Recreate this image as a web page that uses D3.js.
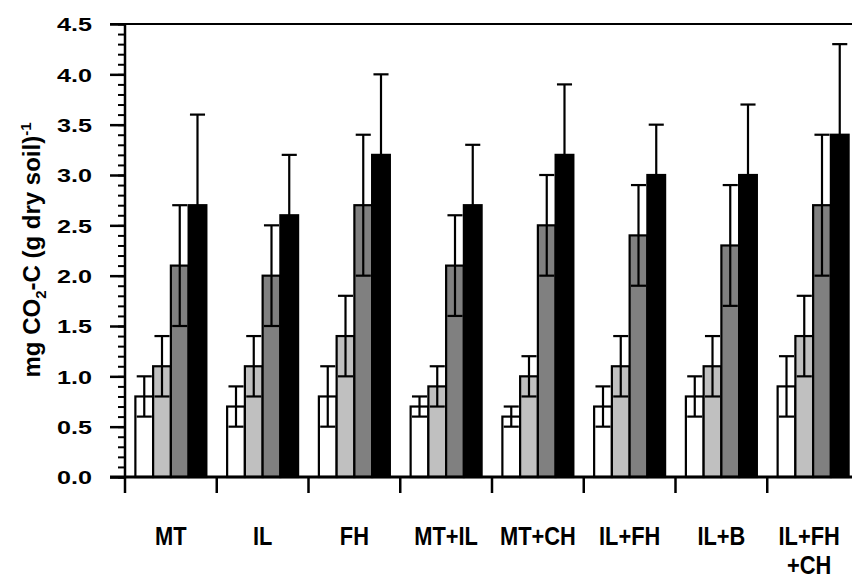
<!DOCTYPE html>
<html>
<head>
<meta charset="utf-8">
<script src="https://cdn.jsdelivr.net/npm/d3@7"></script>
<style>
  body { margin: 0; background: #fff; }
  svg { display: block; font-family: "Liberation Sans", Arial, sans-serif; font-weight: bold; }
</style>
</head>
<body>
<svg id="chart" width="852" height="580"></svg>
<script>
// treatments on the x axis
const groups = ["MT", "IL", "FH", "MT+IL", "MT+CH", "IL+FH", "IL+B", "IL+FH+CH"];
const groupLabels = [["MT"], ["IL"], ["FH"], ["MT+IL"], ["MT+CH"], ["IL+FH"], ["IL+B"], ["IL+FH", "+CH"]];

// four series per group (white, light grey, dark grey, black)
const s1 = [0.8, 0.7, 0.8, 0.7, 0.6, 0.7, 0.8, 0.9];
const s1Err = [0.2, 0.2, 0.3, 0.1, 0.1, 0.2, 0.2, 0.3];
const s2 = [1.1, 1.1, 1.4, 0.9, 1.0, 1.1, 1.1, 1.4];
const s2Err = [0.3, 0.3, 0.4, 0.2, 0.2, 0.3, 0.3, 0.4];
const s3 = [2.1, 2.0, 2.7, 2.1, 2.5, 2.4, 2.3, 2.7];
const s3Err = [0.6, 0.5, 0.7, 0.5, 0.5, 0.5, 0.6, 0.7];
const s4 = [2.7, 2.6, 3.2, 2.7, 3.2, 3.0, 3.0, 3.4];
const s4Err = [0.9, 0.6, 0.8, 0.6, 0.7, 0.5, 0.7, 0.9];

const yMajor = [0, 0.5, 1.0, 1.5, 2.0, 2.5, 3.0, 3.5, 4.0, 4.5];

const series = [
  { values: s1, err: s1Err, fill: "#ffffff" },
  { values: s2, err: s2Err, fill: "#c0c0c0" },
  { values: s3, err: s3Err, fill: "#808080" },
  { values: s4, err: s4Err, fill: "#000000" }
];

const plotLeft = 125, plotRight = 859, plotTop = 24, plotBottom = 477;

const svg = d3.select("#chart");

const x = d3.scaleBand().domain(groups).range([plotLeft, plotRight]);
const sub = d3.scaleBand().domain(d3.range(series.length))
  .range([0, x.bandwidth()]).paddingInner(0).paddingOuter(0.585);
const y = d3.scaleLinear().domain([0, 4.5]).range([plotBottom, plotTop]);

// flatten into one list of bars
let bars = [];
series.forEach((s, i) => {
  groups.forEach((g, j) => {
    bars.push({ g: g, i: i, v: s.values[j], e: s.err[j], fill: s.fill });
  });
});

// bars
svg.append("g").selectAll("rect")
  .data(bars)
  .join("rect")
  .attr("x", d => x(d.g) + sub(d.i))
  .attr("y", d => y(d.v))
  .attr("width", sub.bandwidth())
  .attr("height", d => y(0) - y(d.v))
  .attr("fill", d => d.fill)
  .attr("stroke", "#000")
  .attr("stroke-width", 2.2);

// error bars (drawn on top, lower half shows inside the bar)
const capW = sub.bandwidth() * 0.85;
const eb = svg.append("g").attr("stroke", "#000").attr("stroke-width", 2.2);
bars.forEach(d => {
  const cx = x(d.g) + sub(d.i) + sub.bandwidth() / 2;
  eb.append("line")
    .attr("x1", cx).attr("x2", cx)
    .attr("y1", y(d.v - d.e)).attr("y2", y(d.v + d.e));
  [d.v - d.e, d.v + d.e].forEach(val => {
    eb.append("line")
      .attr("x1", cx - capW / 2).attr("x2", cx + capW / 2)
      .attr("y1", y(val)).attr("y2", y(val));
  });
});

// y axis: minor ticks every 0.1, major every 0.5
svg.append("g")
  .attr("transform", `translate(${plotLeft},0)`)
  .call(d3.axisLeft(y).tickValues(d3.range(0, 46).map(k => k / 10)).tickSize(7).tickFormat(""))
  .call(g => g.select(".domain").remove())
  .call(g => g.selectAll("line").attr("stroke-width", 2));

svg.append("g")
  .attr("transform", `translate(${plotLeft},0)`)
  .call(d3.axisLeft(y).tickValues(yMajor).tickSize(15).tickFormat(d3.format(".1f")))
  .call(g => g.select(".domain").remove())
  .call(g => g.selectAll("line").attr("stroke-width", 2.5))
  .call(g => g.selectAll("text")
    .attr("x", -33)
    .attr("dy", "0.36em")
    .attr("font-size", 19)
    .attr("font-weight", "bold")
    .attr("font-family", "Liberation Sans, Arial, sans-serif")
    .attr("fill", "#000")
    .attr("textLength", 35)
    .attr("lengthAdjust", "spacingAndGlyphs"));

// frame lines
svg.append("line").attr("x1", 110).attr("x2", 852).attr("y1", plotTop).attr("y2", plotTop)
  .attr("stroke", "#000").attr("stroke-width", 2);
svg.append("line").attr("x1", plotLeft).attr("x2", plotLeft).attr("y1", plotTop).attr("y2", plotBottom)
  .attr("stroke", "#000").attr("stroke-width", 2.5);
svg.append("line").attr("x1", 110).attr("x2", 852).attr("y1", plotBottom).attr("y2", plotBottom)
  .attr("stroke", "#000").attr("stroke-width", 3);

// x ticks at group boundaries
svg.append("g").selectAll("line")
  .data(groups)
  .join("line")
  .attr("x1", d => x(d)).attr("x2", d => x(d))
  .attr("y1", plotBottom).attr("y2", plotBottom + 16)
  .attr("stroke", "#000").attr("stroke-width", 2.5);

// category labels (last one nudged left so it stays inside the page)
groups.forEach((g, j) => {
  const shift = j === groups.length - 1 ? -4 : 0;
  groupLabels[j].forEach((line, k) => {
    const t = svg.append("text")
      .attr("x", x(g) + x.bandwidth() / 2 + shift)
      .attr("y", 545 + k * 29)
      .attr("text-anchor", "middle")
      .attr("font-size", 26)
      .text(line);
    const w = t.node().getComputedTextLength();
    t.attr("textLength", w * 0.84).attr("lengthAdjust", "spacingAndGlyphs");
  });
});

// y axis title
const title = svg.append("text")
  .attr("transform", "translate(40,250) rotate(-90)")
  .attr("text-anchor", "middle")
  .attr("font-size", 24);
title.append("tspan").text("mg CO");
title.append("tspan").attr("font-size", 15).attr("dy", 6).text("2");
title.append("tspan").attr("dy", -6).text("-C (g dry soil)");
title.append("tspan").attr("font-size", 15).attr("dy", -9).text("-1");
</script>
</body>
</html>
